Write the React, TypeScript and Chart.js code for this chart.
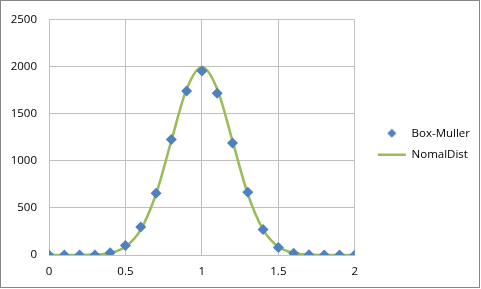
import { useEffect, useRef } from "react";
import { Chart, registerables } from "chart.js";

Chart.register(...registerables);

const xValues = [0, 0.1, 0.2, 0.3, 0.4, 0.5, 0.6, 0.7, 0.8, 0.9, 1, 1.1, 1.2, 1.3, 1.4, 1.5, 1.6, 1.7, 1.8, 1.9, 2];
const boxMuller = [0, 0, 0, 0, 25, 100, 297, 656, 1228, 1744, 1956, 1720, 1192, 666, 272, 80, 18, 3, 0, 0, 0];
const nomalDist = [0, 0.1, 0.7, 4.4, 22, 88, 271, 649, 1213, 1765, 2000, 1765, 1213, 649, 271, 88, 22, 4.4, 0.7, 0.1, 0];
const seriesNames = ["Box-Muller", "NomalDist"];
const yTicks = [0, 500, 1000, 1500, 2000, 2500];
const xTicks = [0, 0.5, 1, 1.5, 2];

const BLUE = "#4F81BD";
const GREEN = "#9BBB59";
const FONT = "'Open Sans', sans-serif";

function diamondImage(): HTMLCanvasElement {
  const c = document.createElement("canvas");
  c.width = 11;
  c.height = 11;
  const ctx = c.getContext("2d")!;
  ctx.fillStyle = BLUE;
  ctx.beginPath();
  ctx.moveTo(5.5, 1);
  ctx.lineTo(10, 5.5);
  ctx.lineTo(5.5, 10);
  ctx.lineTo(1, 5.5);
  ctx.closePath();
  ctx.fill();
  return c;
}

const shiftLegend = {
  id: "shiftLegend",
  afterLayout(chart: any) {
    const lg = chart.legend;
    if (lg) {
      lg.left += 13;
      lg.right += 13;
      lg.top -= 7;
      lg.bottom -= 7;
    }
  },
};

export default function App() {
  const ref = useRef<HTMLCanvasElement | null>(null);

  useEffect(() => {
    if (!ref.current) return;
    const diamond = diamondImage();
    const chart = new Chart(ref.current, {
      type: "scatter",
      data: {
        datasets: [
          {
            label: seriesNames[0],
            data: xValues.map((x, i) => ({ x, y: boxMuller[i] })),
            pointStyle: "rectRot",
            pointRadius: 5.5,
            backgroundColor: BLUE,
            borderColor: BLUE,
            borderWidth: 0,
            showLine: false,
          },
          {
            label: seriesNames[1],
            data: xValues.map((x, i) => ({ x, y: nomalDist[i] })),
            showLine: true,
            pointRadius: 0,
            borderColor: GREEN,
            backgroundColor: GREEN,
            borderWidth: 2.5,
            cubicInterpolationMode: "monotone",
          },
        ],
      },
      plugins: [shiftLegend],
      options: {
        animation: false,
        responsive: true,
        maintainAspectRatio: false,
        layout: { autoPadding: false, padding: { top: 15, left: 9, right: 12, bottom: 1 } },
        plugins: {
          tooltip: { enabled: false },
          legend: {
            position: "right",
            labels: {
              usePointStyle: true,
              pointStyleWidth: 28,
              color: "#000",
              font: { family: FONT, size: 11.5 },
              padding: 10,
              generateLabels: (ch: any) => {
                const items = Chart.defaults.plugins.legend.labels.generateLabels(ch);
                items.forEach((it: any, i: number) => {
                  if (i === 0) {
                    it.pointStyle = diamond;
                  } else {
                    it.pointStyle = "line";
                    it.strokeStyle = GREEN;
                    it.lineWidth = 2.5;
                  }
                });
                return items;
              },
            },
          },
        },
        scales: {
          x: {
            type: "linear",
            min: xTicks[0],
            max: xTicks[xTicks.length - 1],
            afterBuildTicks: (axis: any) => {
              axis.ticks = xTicks.map((v) => ({ value: v }));
            },
            afterFit: (axis: any) => {
              axis.height = 31;
            },
            ticks: {
              padding: 10,
              color: "#000",
              font: { family: FONT, size: 11.5 },
              callback: (v: any) => String(v),
            },
            grid: { color: "#bfbfbf", drawTicks: false },
            border: { color: "#bfbfbf" },
          },
          y: {
            type: "linear",
            min: yTicks[0],
            max: yTicks[yTicks.length - 1],
            afterBuildTicks: (axis: any) => {
              axis.ticks = yTicks.map((v) => ({ value: v }));
            },
            afterFit: (axis: any) => {
              axis.width = 39;
            },
            ticks: {
              padding: 12,
              color: "#000",
              font: { family: FONT, size: 11.5 },
              callback: (v: any) => String(v),
            },
            grid: { color: "#bfbfbf", drawTicks: false },
            border: { color: "#bfbfbf" },
          },
        },
      },
    });
    return () => chart.destroy();
  }, []);

  return (
    <div
      style={{
        position: "fixed",
        left: 0,
        top: 0,
        width: 480,
        height: 288,
        boxSizing: "border-box",
        border: "1px solid #868686",
        background: "#fff",
      }}
    >
      <canvas ref={ref} />
    </div>
  );
}
